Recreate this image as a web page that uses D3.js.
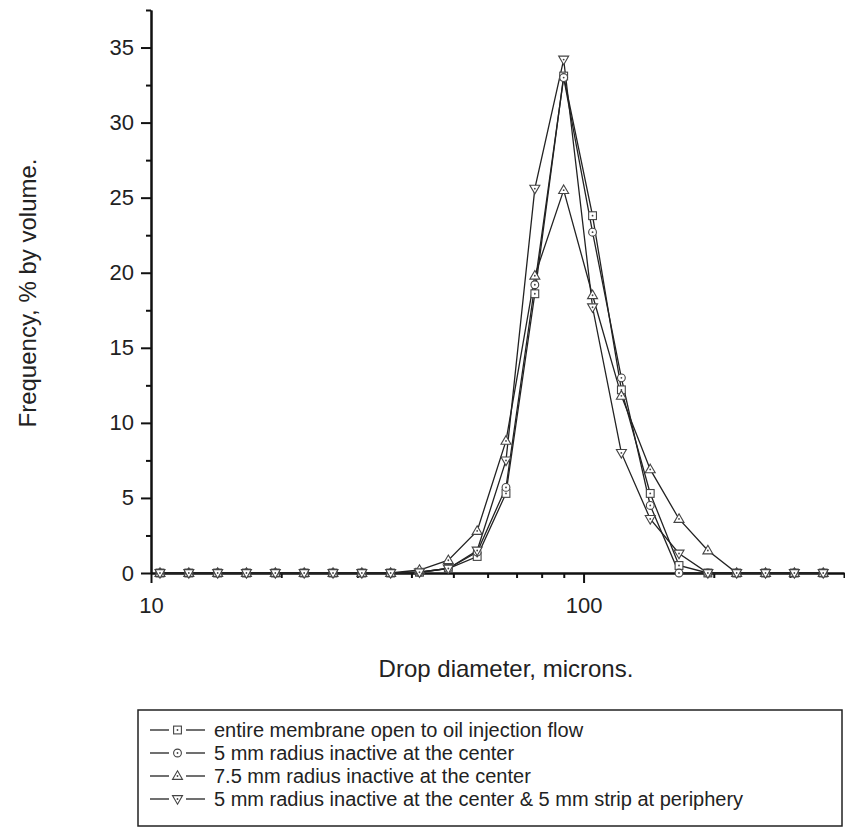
<!DOCTYPE html>
<html>
<head>
<meta charset="utf-8">
<script src="https://cdn.jsdelivr.net/npm/d3@7"></script>
<style>
  body { margin: 0; background: #fff; }
  svg { font-family: "Liberation Sans", Arial, sans-serif; }
</style>
</head>
<body>
<svg id="chart" width="845" height="830"></svg>
<script>
// drop size bins (microns), log spaced
const diameters = [10.49, 12.23, 14.26, 16.62, 19.38, 22.60, 26.35, 30.72, 35.81, 41.75, 48.68, 56.76,
  66.17, 77.15, 89.95, 104.9, 122.3, 142.6, 166.2, 193.8, 225.9, 263.4, 307.1, 358.1];

const entireOpen = [0, 0, 0, 0, 0, 0, 0, 0, 0, 0.05, 0.3, 1.1, 5.3, 18.6, 33.1, 23.8, 12.2, 5.3, 0.5, 0, 0, 0, 0, 0];
const center5 = [0, 0, 0, 0, 0, 0, 0, 0, 0, 0.05, 0.3, 1.4, 5.7, 19.2, 33.0, 22.7, 13.0, 4.5, 0, 0, 0, 0, 0, 0];
const center75 = [0, 0, 0, 0, 0, 0, 0, 0, 0, 0.2, 0.85, 2.8, 8.8, 19.8, 25.5, 18.5, 11.8, 6.9, 3.6, 1.5, 0, 0, 0, 0];
const centerStrip = [0, 0, 0, 0, 0, 0, 0, 0, 0, 0.05, 0.3, 1.5, 7.5, 25.6, 34.2, 17.7, 8.0, 3.6, 1.3, 0, 0, 0, 0, 0];

const seriesNames = [
  "entire membrane open to oil injection flow",
  "5 mm radius inactive at the center",
  "7.5 mm radius inactive at the center",
  "5 mm radius inactive at the center & 5 mm strip at periphery"
];
const seriesShapes = ["square", "circle", "up", "down"];

const xMajor = [10, 100];
const xMinor = [20, 30, 40, 50, 60, 70, 80, 90, 200, 300, 400];
const yMajor = [0, 5, 10, 15, 20, 25, 30, 35];
const yMinor = [2.5, 7.5, 12.5, 17.5, 22.5, 27.5, 32.5, 37.5];

const svg = d3.select("#chart");

const x = d3.scaleLog().domain([10, 400]).range([151, 844]);
const y = d3.scaleLinear().domain([0, 37.5]).range([573, 10]);

// axes
const gx = svg.append("g").attr("transform", "translate(0,573)");
gx.call(d3.axisBottom(x).tickValues(xMajor).tickFormat(d3.format("d")).tickSize(10).tickSizeOuter(0).tickPadding(14));
gx.append("g").call(d3.axisBottom(x).tickValues(xMinor).tickFormat("").tickSize(5).tickSizeOuter(0));

const gy = svg.append("g").attr("transform", "translate(151,0)");
gy.call(d3.axisLeft(y).tickValues(yMajor).tickSize(10).tickSizeOuter(0).tickPadding(7));
gy.append("g").call(d3.axisLeft(y).tickValues(yMinor).tickFormat("").tickSize(5).tickSizeOuter(0));

svg.selectAll(".domain").attr("stroke", "#111").attr("stroke-width", 2);
svg.selectAll(".tick line").attr("stroke", "#111").attr("stroke-width", 2);
svg.selectAll(".tick text").attr("font-size", 22).attr("fill", "#222")
  .attr("font-family", "Liberation Sans, Arial, sans-serif");

svg.append("text")
  .attr("x", 506).attr("y", 677)
  .attr("text-anchor", "middle")
  .attr("font-size", 24).attr("fill", "#222")
  .text("Drop diameter, microns.");

svg.append("text")
  .attr("transform", "translate(36,293) rotate(-90)")
  .attr("text-anchor", "middle")
  .attr("font-size", 24).attr("fill", "#222")
  .text("Frequency, % by volume.");

// markers
function drawMarker(g, shape, cx, cy) {
  const s = 3.9;
  if (shape === "square") {
    g.append("rect").attr("x", cx - s).attr("y", cy - s).attr("width", 2 * s).attr("height", 2 * s);
  } else if (shape === "circle") {
    g.append("circle").attr("cx", cx).attr("cy", cy).attr("r", s);
  } else if (shape === "up") {
    g.append("path").attr("d", `M${cx},${cy - 5.2}L${cx + 5},${cy + 3.4}L${cx - 5},${cy + 3.4}Z`);
  } else {
    g.append("path").attr("d", `M${cx},${cy + 5.2}L${cx + 5},${cy - 3.4}L${cx - 5},${cy - 3.4}Z`);
  }
  g.append("circle").attr("class", "dot").attr("cx", cx).attr("cy", cy).attr("r", 0.9);
}

const allSeries = [entireOpen, center5, center75, centerStrip];
const line = d3.line().x((d, i) => x(diameters[i])).y(d => y(d));

allSeries.forEach((vals, si) => {
  svg.append("path")
    .datum(vals)
    .attr("fill", "none")
    .attr("stroke", "#222")
    .attr("stroke-width", 1.3)
    .attr("d", line);
});

allSeries.forEach((vals, si) => {
  const g = svg.append("g")
    .attr("fill", "#fff").attr("stroke", "#444").attr("stroke-width", 1.1);
  vals.forEach((v, i) => drawMarker(g, seriesShapes[si], x(diameters[i]), y(v)));
  g.selectAll(".dot").attr("fill", "#444").attr("stroke", "none");
});

// legend
const legend = svg.append("g");
legend.append("rect")
  .attr("x", 138).attr("y", 710).attr("width", 704).attr("height", 116)
  .attr("fill", "none").attr("stroke", "#222").attr("stroke-width", 1.5);

seriesNames.forEach((name, i) => {
  const ly = 730 + i * 23;
  const g = legend.append("g");
  g.append("line").attr("x1", 150).attr("x2", 169).attr("y1", ly).attr("y2", ly)
    .attr("stroke", "#222").attr("stroke-width", 1.3);
  g.append("line").attr("x1", 186).attr("x2", 205).attr("y1", ly).attr("y2", ly)
    .attr("stroke", "#222").attr("stroke-width", 1.3);
  const mg = g.append("g").attr("fill", "#fff").attr("stroke", "#444").attr("stroke-width", 1.1);
  drawMarker(mg, seriesShapes[i], 177.5, ly);
  mg.selectAll(".dot").attr("fill", "#444").attr("stroke", "none");
  g.append("text").attr("x", 214).attr("y", ly).attr("dy", "0.35em")
    .attr("font-size", 20).attr("fill", "#222")
    .text(name);
});
</script>
</body>
</html>
